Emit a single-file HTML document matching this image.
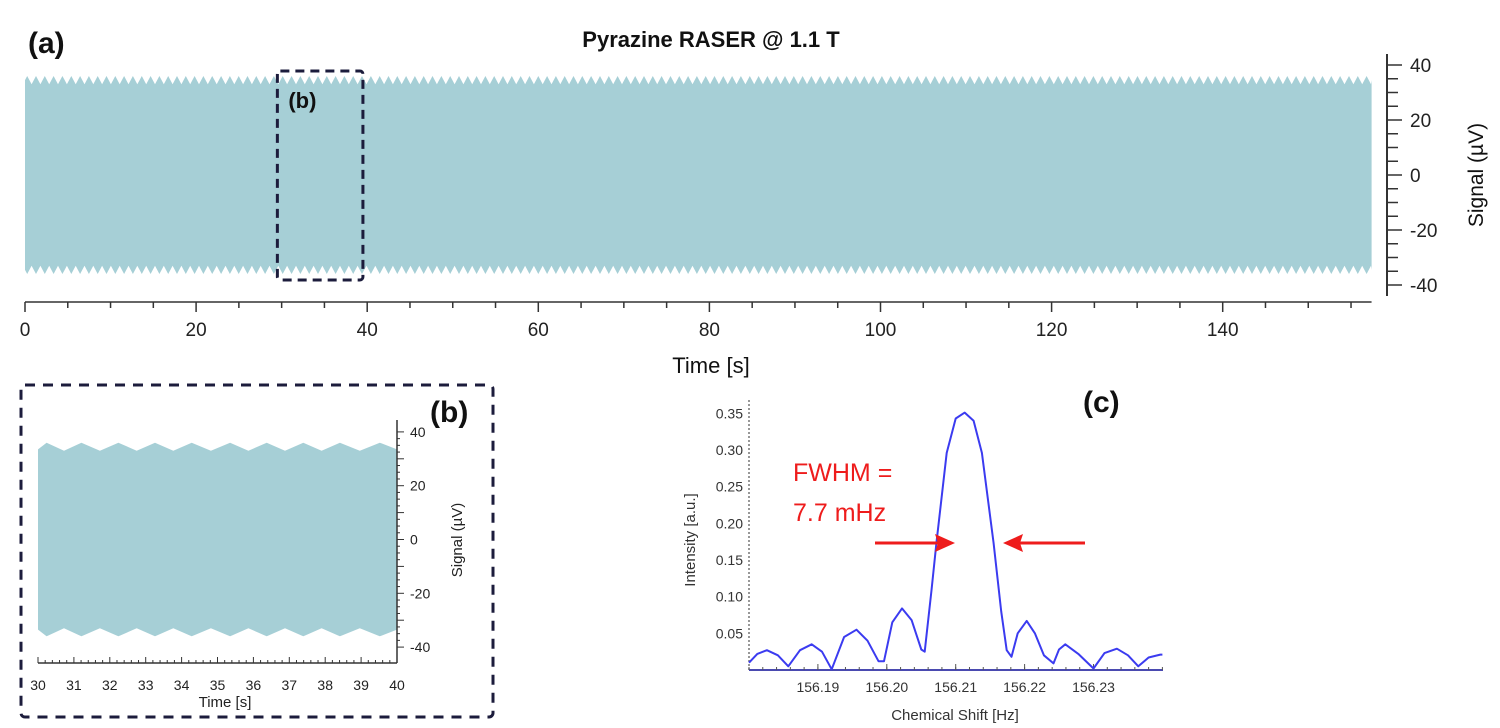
<!DOCTYPE html>
<html><head><meta charset="utf-8">
<style>
html,body{margin:0;padding:0;background:#fff;}
svg{display:block;font-family:"Liberation Sans","DejaVu Sans",sans-serif;}
</style></head>
<body>
<svg id="fig" width="1500" height="728" viewBox="0 0 1500 728" xmlns="http://www.w3.org/2000/svg">
  <g id="pa"></g>
  <g id="pb"></g>
  <g id="pc"></g>
</svg>
<script>
// ---------- Panel (a) data ----------
const aTimeRange = [0, 157.4];
const aXTicks = [0, 20, 40, 60, 80, 100, 120, 140];
const aYTicks = [40, 20, 0, -20, -40];
const aEnvMax = 36;      // µV outer envelope
const aEnvMin = 33;      // µV inner envelope
const aBeatPeriod = 1.03; // s
const aZoomWindow = [29.5, 39.5];
// ---------- Panel (b) data ----------
const bXTicks = [30, 31, 32, 33, 34, 35, 36, 37, 38, 39, 40];
const bYTicks = [40, 20, 0, -20, -40];
const bPeakTimes = [30.24, 31.21, 32.24, 33.26, 34.28, 35.35, 36.37, 37.39, 38.41, 39.52];
const bEnvMax = 36;
const bEnvMin = 33;
// ---------- Panel (c) data ----------
const cFreq = [156.1800,156.1812,156.1826,156.1842,156.1857,156.1874,156.1891,156.1906,156.1920,156.1938,156.1956,156.1972,156.1988,156.1996,156.2008,156.2022,156.2036,156.2050,156.2055,156.2065,156.2072,156.2087,156.2100,156.2113,156.2126,156.2138,156.2155,156.2166,156.2174,156.2181,156.2190,156.2203,156.2215,156.2228,156.2242,156.2250,156.2259,156.2278,156.2300,156.2316,156.2334,156.2350,156.2365,156.2380,156.2397,156.2400];
const cIntensity = [0.010,0.022,0.027,0.020,0.005,0.027,0.035,0.025,0.001,0.045,0.055,0.040,0.012,0.012,0.065,0.084,0.068,0.028,0.025,0.110,0.173,0.296,0.343,0.351,0.340,0.296,0.173,0.080,0.027,0.018,0.050,0.067,0.050,0.020,0.009,0.028,0.035,0.022,0.002,0.023,0.029,0.020,0.005,0.017,0.021,0.021];
const cXTicks = [156.19, 156.20, 156.21, 156.22, 156.23];
const cYTicks = [0.05, 0.10, 0.15, 0.20, 0.25, 0.30, 0.35];

const NS = "http://www.w3.org/2000/svg";
function mk(parent, tag, attrs, text) {
  const e = document.createElementNS(NS, tag);
  for (const k in attrs) e.setAttribute(k, attrs[k]);
  if (text !== undefined) e.textContent = text;
  parent.appendChild(e);
  return e;
}
const FILL = "#a6cfd6";

// ================= Panel A =================
const pa = document.getElementById("pa");
const ax = t => 25 + t * 8.555;
const ay = v => 175 - v * 2.75;

let lbl = mk(pa, "text", {x: 28, y: 53, "font-size": 30, "font-weight": "bold", fill: "#111"}, "(a)");


let ttl = mk(pa, "text", {x: 711, y: 47, "font-size": 22, "font-weight": "bold", "text-anchor": "middle", fill: "#111"}, "Pyrazine RASER @ 1.1 T");



// envelope band
(function(){
  let top = [], bot = [];
  const n = Math.ceil((aTimeRange[1] - aTimeRange[0]) / aBeatPeriod * 4);
  for (let i = 0; i <= n; i++) {
    const t = Math.min(aTimeRange[1], aTimeRange[0] + i * aBeatPeriod / 4);
    const v = (i % 4 === 1) ? aEnvMax : (i % 4 === 3 ? aEnvMin : (aEnvMax + aEnvMin) / 2);
    top.push(ax(t).toFixed(1) + "," + ay(v).toFixed(1));
    bot.unshift(ax(t).toFixed(1) + "," + ay(-v).toFixed(1));
  }
  const p = mk(pa, "polygon", {points: top.concat(bot).join(" "), fill: FILL});
  
  
})();

// zoom window rectangle
let zr = mk(pa, "rect", {x: ax(aZoomWindow[0]), y: 71, width: ax(aZoomWindow[1]) - ax(aZoomWindow[0]), height: 209, rx: 3, fill: "none", stroke: "#1c1c3c", "stroke-width": 3, "stroke-dasharray": "9 6"});


let zl = mk(pa, "text", {x: ax(aZoomWindow[0]) + 11, y: 108, "font-size": 22, "font-weight": "bold", fill: "#111"}, "(b)");



// x-axis
let xa = mk(pa, "line", {x1: 25, y1: 302, x2: ax(aTimeRange[1]), y2: 302, stroke: "#333", "stroke-width": 1.5});


for (let t = 0; t <= aTimeRange[1]; t += 5) {
  const major = t % 20 === 0;
  mk(pa, "line", {x1: ax(t), y1: 302, x2: ax(t), y2: major ? 312 : 308, stroke: "#333", "stroke-width": 1.5});
}
aXTicks.forEach(t => {
  const tl = mk(pa, "text", {x: ax(t), y: 336, "font-size": 19, "text-anchor": "middle", fill: "#222"}, String(t));
  
  
});
let xt = mk(pa, "text", {x: 711, y: 373, "font-size": 22, "text-anchor": "middle", fill: "#111"}, "Time [s]");



// y-axis (right)
let ya = mk(pa, "line", {x1: 1387, y1: 54, x2: 1387, y2: 296, stroke: "#333", "stroke-width": 2});


for (let v = -40; v <= 40; v += 5) {
  const major = v % 20 === 0;
  mk(pa, "line", {x1: 1387, y1: ay(v), x2: major ? 1402 : 1398, y2: ay(v), stroke: "#333", "stroke-width": 1.5});
}
aYTicks.forEach(v => {
  const tl = mk(pa, "text", {x: 1410, y: ay(v) + 7, "font-size": 19, fill: "#222"}, String(v));
  
  
});
let yt = mk(pa, "text", {x: 1483, y: 175, "font-size": 21, "text-anchor": "middle", fill: "#111", transform: "rotate(-90 1483 175)"}, "Signal (µV)");



// ================= Panel B =================
const pb = document.getElementById("pb");
const bx = t => 38 + (t - 30) * 35.9;
const by = v => 539.5 - v * 2.69;
let bb = mk(pb, "rect", {x: 21, y: 385, width: 472, height: 332, rx: 4, fill: "none", stroke: "#1c1c3c", "stroke-width": 3, "stroke-dasharray": "10 8"});


let bl = mk(pb, "text", {x: 430, y: 422, "font-size": 30, "font-weight": "bold", fill: "#111"}, "(b)");


(function(){
  let top = [], bot = [];
  const pts = [[30, bEnvMin + 0.5]];
  bPeakTimes.forEach((p, i) => {
    pts.push([p, bEnvMax]);
    const nx = i < bPeakTimes.length - 1 ? (p + bPeakTimes[i+1]) / 2 : null;
    if (nx !== null) pts.push([nx, bEnvMin]);
  });
  pts.push([40, bEnvMin + 0.5]);
  pts.forEach(([t, v]) => {
    top.push(bx(t).toFixed(1) + "," + by(v).toFixed(1));
    bot.unshift(bx(t).toFixed(1) + "," + by(-v).toFixed(1));
  });
  const p = mk(pb, "polygon", {points: top.concat(bot).join(" "), fill: FILL});
  
  
})();
let bxa = mk(pb, "line", {x1: 38, y1: 663, x2: 397, y2: 663, stroke: "#333", "stroke-width": 1.5});


for (let t = 30; t <= 40.001; t += 0.2) {
  const major = Math.abs(t - Math.round(t)) < 0.01;
  mk(pb, "line", {x1: bx(t), y1: 663, x2: bx(t), y2: major ? 657 : 660, stroke: "#333", "stroke-width": 1});
}
bXTicks.forEach(t => {
  const tl = mk(pb, "text", {x: bx(t), y: 690, "font-size": 14, "text-anchor": "middle", fill: "#222"}, String(t));
  
  
});
let bxt = mk(pb, "text", {x: 225, y: 707, "font-size": 15, "text-anchor": "middle", fill: "#222"}, "Time [s]");


let bya = mk(pb, "line", {x1: 397, y1: 420, x2: 397, y2: 663, stroke: "#333", "stroke-width": 1.5});


for (let v = -40; v <= 40; v += 2.5) {
  const major = v % 10 === 0;
  mk(pb, "line", {x1: 397, y1: by(v), x2: major ? 404 : 400, y2: by(v), stroke: "#333", "stroke-width": 1});
}
bYTicks.forEach(v => {
  const tl = mk(pb, "text", {x: 410, y: by(v) + 5, "font-size": 14, fill: "#222"}, String(v));
  
  
});
let byt = mk(pb, "text", {x: 462, y: 540, "font-size": 15, "text-anchor": "middle", fill: "#222", transform: "rotate(-90 462 540)"}, "Signal (µV)");



// ================= Panel C =================
const pc = document.getElementById("pc");
const cx = f => 749 + (f - 156.18) * 6890;
const cy = v => 670 - v * 733.3;
let cl = mk(pc, "text", {x: 1083, y: 412, "font-size": 30, "font-weight": "bold", fill: "#111"}, "(c)");


let cya = mk(pc, "line", {x1: 749, y1: 400, x2: 749, y2: 670, stroke: "#777", "stroke-width": 1.5, "stroke-dasharray": "2 2"});


let cxa = mk(pc, "line", {x1: 749, y1: 670, x2: 1163, y2: 670, stroke: "#4a4ab0", "stroke-width": 2});


for (let f = 156.18; f <= 156.2401; f += 0.002) {
  mk(pc, "line", {x1: cx(f), y1: 670, x2: cx(f), y2: 667, stroke: "#555", "stroke-width": 1});
}
cXTicks.forEach(f => {
  mk(pc, "line", {x1: cx(f), y1: 670, x2: cx(f), y2: 664, stroke: "#555", "stroke-width": 1});
  const tl = mk(pc, "text", {x: cx(f), y: 692, "font-size": 14, "text-anchor": "middle", fill: "#333"}, f.toFixed(2));
  
  
});
cYTicks.forEach(v => {
  const tl = mk(pc, "text", {x: 743, y: cy(v) + 5, "font-size": 14, "text-anchor": "end", fill: "#333"}, v.toFixed(2));
  
  
});
let cxt = mk(pc, "text", {x: 955, y: 720, "font-size": 15, "text-anchor": "middle", fill: "#333"}, "Chemical Shift [Hz]");


let cyt = mk(pc, "text", {x: 695, y: 540, "font-size": 15, "text-anchor": "middle", fill: "#333", transform: "rotate(-90 695 540)"}, "Intensity [a.u.]");


const spec = mk(pc, "polyline", {points: cFreq.map((f, i) => cx(f).toFixed(1) + "," + cy(cIntensity[i]).toFixed(1)).join(" "), fill: "none", stroke: "#3b3bf0", "stroke-width": 2, "stroke-linejoin": "round"});


let f1 = mk(pc, "text", {x: 793, y: 481, "font-size": 25, fill: "#ee1c1c"}, "FWHM =");


let f2 = mk(pc, "text", {x: 793, y: 521, "font-size": 25, fill: "#ee1c1c"}, "7.7 mHz");


let ar1 = mk(pc, "g", {});


mk(ar1, "line", {x1: 875, y1: 543, x2: 940, y2: 543, stroke: "#ee1c1c", "stroke-width": 3});
mk(ar1, "polygon", {points: "955,543 935,534 938,543 935,552", fill: "#ee1c1c"});
let ar2 = mk(pc, "g", {});


mk(ar2, "line", {x1: 1085, y1: 543, x2: 1018, y2: 543, stroke: "#ee1c1c", "stroke-width": 3});
mk(ar2, "polygon", {points: "1003,543 1023,534 1020,543 1023,552", fill: "#ee1c1c"});
</script>
</body></html>
